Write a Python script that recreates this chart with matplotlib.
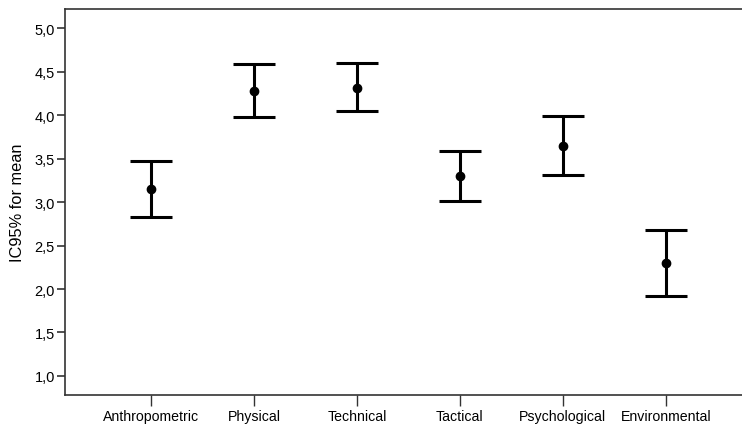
from matplotlib import pyplot as plt
from matplotlib.ticker import FuncFormatter

categories = ["Anthropometric", "Physical", "Technical", "Tactical", "Psychological", "Environmental"]
mean_values = [3.15, 4.28, 4.31, 3.30, 3.65, 2.30]
lower_values = [2.83, 3.98, 4.05, 3.01, 3.31, 1.92]
upper_values = [3.47, 4.59, 4.60, 3.59, 3.99, 2.68]

plt.rcParams['font.family'] = ['Liberation Sans', 'DejaVu Sans']

fig = plt.figure(figsize=(7.42, 4.27), dpi=100)
ax = fig.add_axes([0.0872, 0.0726, 0.926, 0.9033])

positions = list(range(len(categories)))
err_low = [m - lo for m, lo in zip(mean_values, lower_values)]
err_high = [hi - m for m, hi in zip(mean_values, upper_values)]

ax.errorbar(positions, mean_values, yerr=[err_low, err_high], fmt="o", color="black",
            markersize=6, elinewidth=2.2, capsize=15, capthick=2.2)

ax.set_xlim(-0.838, 5.835)
ax.set_ylim(0.78, 5.22)
ax.set_xticks(positions)
ax.set_xticklabels(categories, fontsize=10.2)
ax.set_yticks([1.0, 1.5, 2.0, 2.5, 3.0, 3.5, 4.0, 4.5, 5.0])
ax.yaxis.set_major_formatter(FuncFormatter(lambda v, p: f"{v:.1f}".replace(".", ",")))
ax.tick_params(axis="y", labelsize=10.5, length=6, width=1.2, color="#333333", pad=1)
ax.tick_params(axis="x", length=8, width=1.0, color="#333333", pad=2)

ax.set_ylabel("IC95% for mean", fontsize=11.8, labelpad=7)

ax.spines["right"].set_visible(False)
for side in ["left", "top", "bottom"]:
    ax.spines[side].set_linewidth(1.2)
    ax.spines[side].set_color("#333333")

plt.savefig("out.png", dpi=100)
